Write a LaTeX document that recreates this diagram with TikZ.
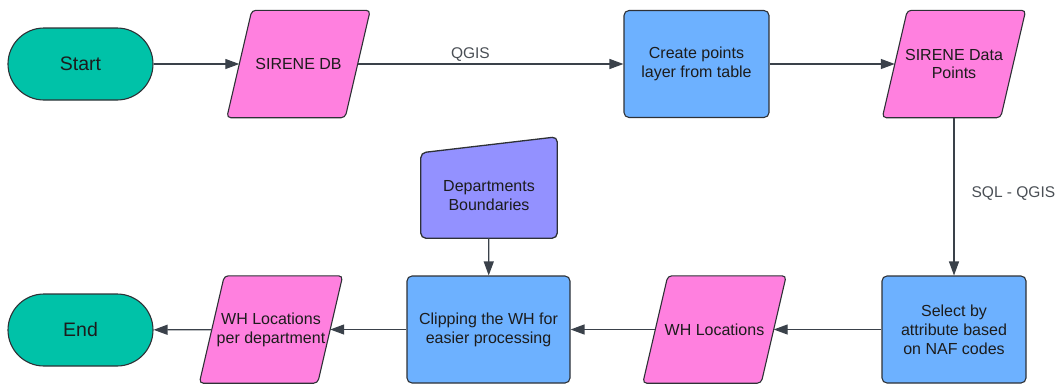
\documentclass[tikz,border=0pt]{standalone}
\usepackage{fontspec}
\setmainfont{Liberation Sans}
\usetikzlibrary{arrows.meta}
\pgfdeclarelayer{background}
\pgfsetlayers{background,main}

\definecolor{termfill}{HTML}{00C2A8}
\definecolor{iofill}{HTML}{FF80DF}
\definecolor{procfill}{HTML}{6DB1FF}
\definecolor{manfill}{HTML}{9391FF}
\definecolor{edge}{HTML}{2E3136}
\definecolor{arrowc}{HTML}{3A414A}
\definecolor{txt}{HTML}{1C1C1C}
\definecolor{labeltxt}{HTML}{4A4F55}

\begin{document}
\begin{tikzpicture}[x=1pt,y=-1pt,
  base/.style={inner sep=0pt, align=center, text=txt,
    font=\fontsize{16}{18.8}\selectfont},
  terminal/.style={base, rectangle, rounded corners=36pt, draw=edge, line width=1.1pt,
    fill=termfill, minimum width=145pt, minimum height=72pt,
    font=\fontsize{19.5}{23}\selectfont},
  process/.style={base, rectangle, rounded corners=5pt, draw=edge, line width=1.1pt,
    fill=procfill, minimum height=107pt},
  io/.style={base, rectangle, minimum width=118pt, minimum height=107pt},
  manual/.style={base, rectangle, minimum width=136pt, minimum height=85pt},
  ioshape/.style={draw=edge, line width=1.1pt, fill=iofill, rounded corners=4pt},
  manshape/.style={draw=edge, line width=1.3pt, fill=manfill, rounded corners=5pt},
  flow/.style={draw=arrowc, line width=1.2pt, -{Triangle[length=14pt,width=10pt]}},
  flowlabel/.style={inner sep=0pt, text=labeltxt, font=\fontsize{15.5}{18}\selectfont}
]
\useasboundingbox (0,0) rectangle (1060,383);

% top row
\node[terminal] (start) at (80.5,64) {Start};
\node[io] (db) at (298.5,64) {SIRENE DB};
\node[process, minimum width=145pt] (create) at (696.5,64) {Create points\\layer from table};
\node[io] (pts) at (954,64) {SIRENE Data\\Points};

% bottom row
\node[process, minimum width=144pt] (select) at (954,329.5) {Select by\\attribute based\\on NAF codes};
\node[io] (wh) at (714.5,329.5) {WH Locations};
\node[process, minimum width=163pt] (clip) at (488.5,329.5) {Clipping the WH for\\easier processing};
\node[io] (whd) at (271,329.5) {WH Locations\\per department};
\node[terminal] (end) at (80.5,330) {End};

% manual input
\node[manual] (dept) at (489,195.5) {Departments\\Boundaries};

% outlines of the data and manual-input shapes, behind their texts
\begin{pgfonlayer}{background}
  \foreach \n in {db,pts,wh,whd}
    \draw[ioshape] ([xshift=-12.5pt]\n.south west) -- ([xshift=12.5pt]\n.north west)
      -- ([xshift=12.5pt]\n.north east) -- ([xshift=-12.5pt]\n.south east) -- cycle;
  \draw[manshape] (dept.north west) -- ([yshift=16pt]dept.north east)
    -- (dept.south east) -- (dept.south west) -- cycle;
\end{pgfonlayer}

% connectors
\draw[flow] (start) -- (db);
\draw[flow] (db) -- node[flowlabel, pos=0.424, anchor=base, yshift=6pt] {QGIS} (create);
\draw[flow] (create) -- (pts);
\draw[flow] (pts) -- node[flowlabel, anchor=west, xshift=17pt, yshift=3pt] {SQL - QGIS} (select);
\draw[flow] (select) -- (wh);
\draw[flow] (wh) -- (clip);
\draw[flow] (dept) -- (clip);
\draw[flow] (clip) -- (whd);
\draw[flow] (whd) -- (end);
\end{tikzpicture}
\end{document}
